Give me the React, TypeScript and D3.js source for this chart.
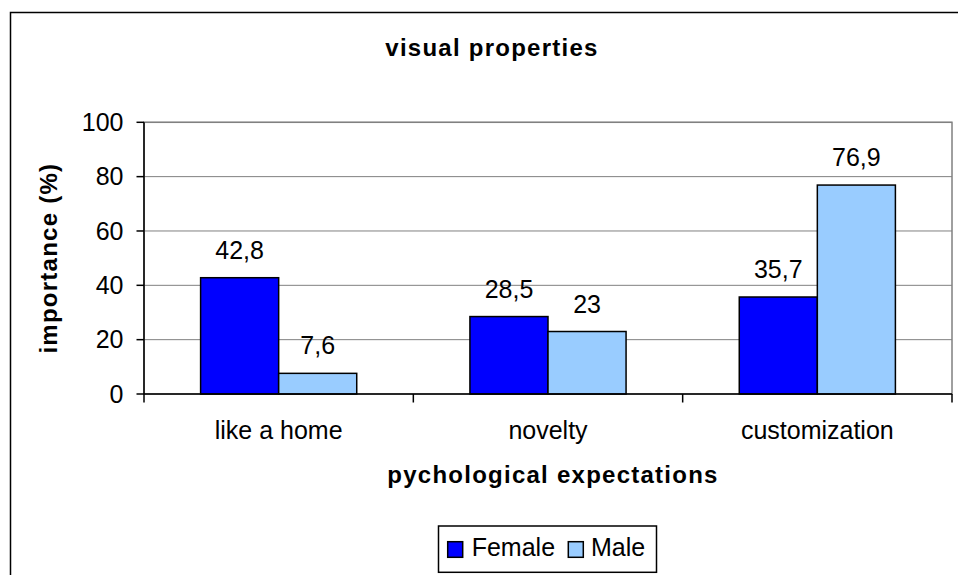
import React from "react";
import * as d3 from "d3";

const categories = ["like a home", "novelty", "customization"];
const seriesNames = ["Female", "Male"];
const femaleValues = [42.8, 28.5, 35.7];
const maleValues = [7.6, 23, 76.9];
const valueLabels = [["42,8", "28,5", "35,7"], ["7,6", "23", "76,9"]];
const yTicks = [0, 20, 40, 60, 80, 100];
const colors = ["#0000FF", "#99CCFF"];

const W = 958;
const H = 575;
const plot = { left: 144, right: 952, top: 122.3, bottom: 394 };

export default function App() {
  const x0 = d3.scaleBand<string>().domain(categories).range([plot.left, plot.right]).paddingInner(0).paddingOuter(0);
  const catW = x0.bandwidth();
  const barW = catW / 3.45;
  const sidePad = (catW - 2 * barW) / 2;
  const y = d3.scaleLinear().domain([0, 100]).range([plot.bottom, plot.top]);
  const series = [femaleValues, maleValues];
  const font = "Liberation Sans, Arial, sans-serif";
  const boundaries = [...categories.map((c) => x0(c) as number), plot.right];
  const fs = 25;
  const bfs = 24;
  const bls = 1.25;

  return (
    <svg width={W} height={H} style={{ position: "absolute", left: 0, top: 0, background: "#fff" }} fontFamily={font}>
      <rect x={0} y={0} width={W} height={H} fill="#fff" />
      <rect x={10.5} y={12.5} width={1000} height={700} fill="none" stroke="#000" strokeWidth={1.5} />
      {/* title */}
      <text x={492} y={55.5} textAnchor="middle" fontSize={bfs} fontWeight="bold" letterSpacing={bls}>visual properties</text>
      {/* plot border */}
      <rect x={plot.left} y={plot.top} width={plot.right - plot.left} height={plot.bottom - plot.top} fill="none" stroke="#808080" strokeWidth={1.5} />
      {/* gridlines */}
      {yTicks.filter((t) => t > 0).map((t) => (
        <line key={"g" + t} x1={plot.left} x2={plot.right} y1={y(t)} y2={y(t)} stroke="#808080" strokeWidth={1} />
      ))}
      {/* bars */}
      {series.map((vals, si) =>
        vals.map((v, ci) => {
          const bx = (x0(categories[ci]) as number) + sidePad + si * barW;
          return (
            <g key={`b${si}-${ci}`}>
              <rect x={bx} y={y(v)} width={barW} height={y(0) - y(v)} fill={colors[si]} stroke="#000" strokeWidth={1.5} />
              <text x={bx + barW / 2} y={y(v) - 19} textAnchor="middle" fontSize={fs}>{valueLabels[si][ci]}</text>
            </g>
          );
        })
      )}
      {/* axes */}
      <line x1={plot.left} x2={plot.left} y1={plot.top} y2={plot.bottom} stroke="#000" strokeWidth={1.5} />
      <line x1={plot.left} x2={plot.right} y1={plot.bottom} y2={plot.bottom} stroke="#000" strokeWidth={1.5} />
      {yTicks.map((t) => (
        <g key={"t" + t}>
          <line x1={plot.left - 7.5} x2={plot.left} y1={y(t)} y2={y(t)} stroke="#000" strokeWidth={1.5} />
          <text x={123.5} y={y(t) + 8.7} textAnchor="end" fontSize={fs}>{t}</text>
        </g>
      ))}
      {boundaries.map((bx, i) => (
        <line key={"xb" + i} x1={bx} x2={bx} y1={plot.bottom} y2={plot.bottom + 8.5} stroke="#000" strokeWidth={1.5} />
      ))}
      {categories.map((c) => (
        <text key={c} x={(x0(c) as number) + catW / 2} y={439.3} textAnchor="middle" fontSize={fs}>{c}</text>
      ))}
      {/* axis titles */}
      <text x={553} y={482.5} textAnchor="middle" fontSize={bfs} fontWeight="bold" letterSpacing={bls}>pychological expectations</text>
      <text transform={`translate(57, ${(plot.top + plot.bottom) / 2}) rotate(-90)`} textAnchor="middle" fontSize={bfs} fontWeight="bold" letterSpacing={bls}>importance (%)</text>
      {/* legend */}
      <rect x={438.5} y={526} width={218} height={46.3} fill="#fff" stroke="#000" strokeWidth={1.5} />
      {seriesNames.map((s, i) => {
        const sx = i === 0 ? 447.7 : 568.3;
        const tx = i === 0 ? 471.7 : 591;
        return (
          <g key={s}>
            <rect x={sx} y={541.7} width={15} height={15.6} fill={colors[i]} stroke="#000" strokeWidth={1.5} />
            <text x={tx} y={555.5} fontSize={fs}>{s}</text>
          </g>
        );
      })}
    </svg>
  );
}
